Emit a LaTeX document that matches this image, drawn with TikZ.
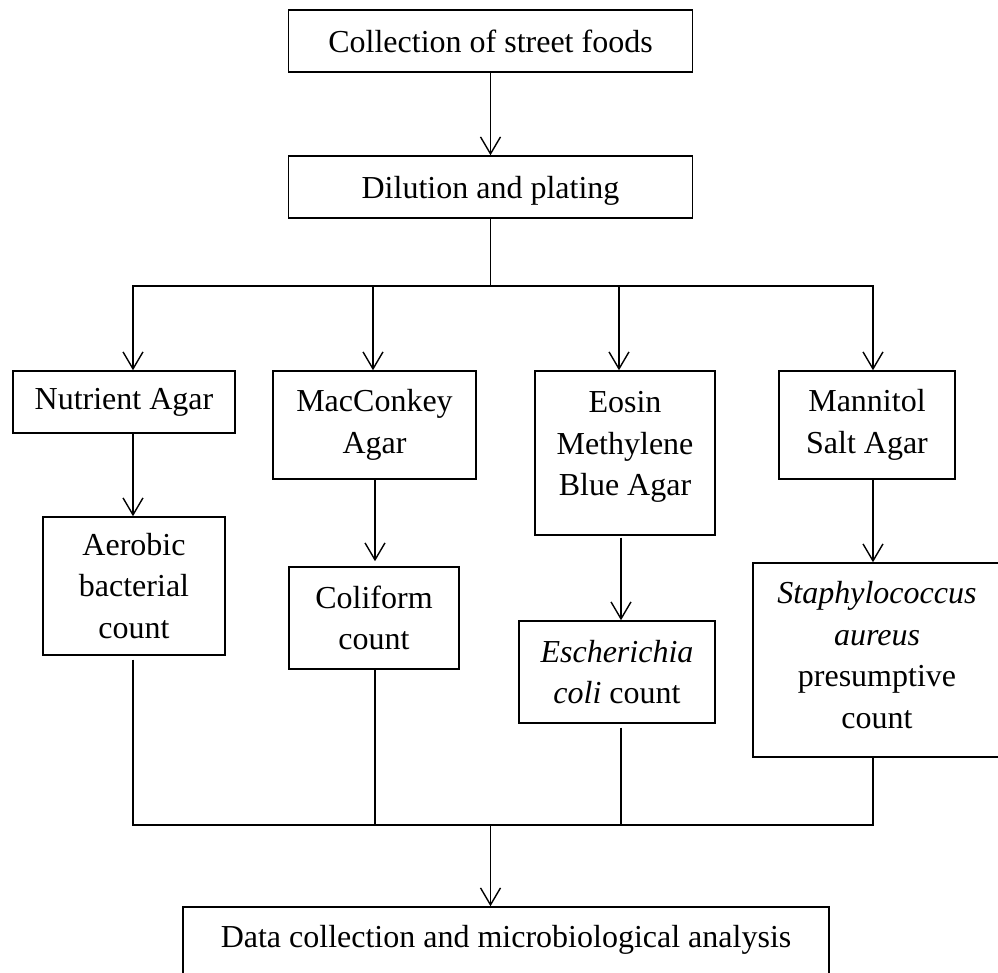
\documentclass[tikz,border=0pt]{standalone}
\usepackage{fontspec}
\setmainfont{Liberation Serif}
\usetikzlibrary{arrows.meta}
\begin{document}
\begin{tikzpicture}[x=0.5pt,y=-0.5pt,
  box/.style={draw,line width=0.75pt,inner sep=0pt,align=center,font=\fontsize{16pt}{20.85pt}\selectfont},
  conn/.style={line width=0.7pt},
  arr/.style={conn,-{Straight Barb[length=8.5pt,width=10pt]}}]
\useasboundingbox (0,0) rectangle (998,973);

\node[box,minimum width=202pt,minimum height=31pt] (top) at (490.5,41) {Collection of street foods};
\node[box,minimum width=202pt,minimum height=31pt,text depth=0pt] (dil) at (490.5,187) {Dilution and plating};
\node[box,minimum width=111pt,minimum height=31pt] (nut) at (124,402) {Nutrient Agar};
\node[box,minimum width=91pt,minimum height=69pt] (aer) at (134,586) {Aerobic\\bacterial\\count};
\node[box,minimum width=101.5pt,minimum height=54pt] (mac) at (374.5,425) {MacConkey\\Agar};
\node[box,minimum width=85pt,minimum height=51pt] (col) at (374,618) {Coliform\\count};
\node[box,minimum width=90pt,minimum height=82pt,text depth=9.5pt] (eos) at (625,453) {Eosin\\Methylene\\Blue Agar};
\node[box,minimum width=98pt,minimum height=51pt] (esc) at (617,672) {\textit{Escherichia}\\\textit{coli} count};
\node[box,minimum width=88pt,minimum height=54pt] (man) at (867,425) {Mannitol\\Salt Agar};
\node[box,minimum width=124pt,minimum height=97pt,text depth=5pt] (sta) at (877,660) {\textit{Staphylococcus}\\\textit{aureus}\\presumptive\\count};
\node[box,minimum width=323pt,minimum height=36.5pt,text depth=7.5pt] (dat) at (506,943.5) {Data collection and microbiological analysis};

\coordinate (j) at (490.5,286);
\coordinate (b1) at (133,286);
\coordinate (b2) at (373,286);
\coordinate (b3) at (619,286);
\coordinate (b4) at (873,286);
\coordinate (d1) at (133,825);
\coordinate (d2) at (375,825);
\coordinate (d3) at (621,825);
\coordinate (d4) at (873,825);
\coordinate (dj) at (490.5,825);

\draw[arr] (top) -- (dil);
\draw[conn] (dil.south) -- (j);
\draw[conn,line cap=rect] (b1) -- (b4);
\draw[arr] (b1) -- (nut.north -| b1);
\draw[arr] (b2) -- (mac.north -| b2);
\draw[arr] (b3) -- (eos.north -| b3);
\draw[arr] (b4) -- (man.north -| b4);

\draw[arr] (nut.south -| b1) -- (aer.north -| b1);
\draw[arr,shorten >=2.5pt] (mac.south -| d2) -- (col.north -| d2);
\draw[arr,shorten <=1pt] (eos.south -| d3) -- (esc.north -| d3);
\draw[arr] (man.south -| b4) -- (sta.north -| b4);

\draw[conn,shorten <=2pt] (aer.south -| d1) -- (d1) -- (d4) -- (sta.south -| d4);
\draw[conn] (col.south -| d2) -- (d2);
\draw[conn,shorten <=2pt] (esc.south -| d3) -- (d3);
\draw[arr] (dj) -- (dat.north -| dj);
\end{tikzpicture}
\end{document}
